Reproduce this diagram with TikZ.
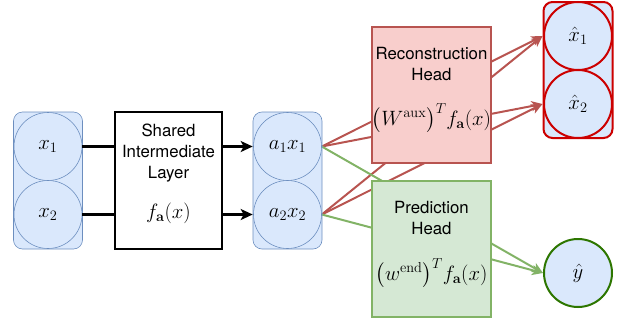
\documentclass[tikz,border=0pt]{standalone}
\usepackage[no-math]{fontspec}
\setmainfont{TeX Gyre Heros}
\usepackage{amsmath}
\usetikzlibrary{positioning,arrows.meta}
\pgfdeclarelayer{edgelayer}
\pgfsetlayers{edgelayer,main}
\definecolor{unitfill}{HTML}{DAE8FC}
\definecolor{unitline}{HTML}{6C8EBF}
\definecolor{recfill}{HTML}{F8CECC}
\definecolor{recline}{HTML}{B85450}
\definecolor{predfill}{HTML}{D5E8D4}
\definecolor{predline}{HTML}{82B366}
\definecolor{outred}{HTML}{CC0000}
\definecolor{outgreen}{HTML}{2D7600}
\newcommand{\mathfs}{\fontsize{21}{24}\selectfont}
\tikzset{
unit/.style={circle,minimum size=68pt,inner sep=0pt,fill=unitfill,draw=unitline,line width=0.6pt,font=\mathfs},
group/.style={rounded corners=9pt,minimum width=69pt,minimum height=137pt,inner sep=0pt,fill=unitfill,draw=unitline,line width=0.6pt},
headbox/.style={minimum width=119pt,minimum height=136pt,inner sep=0pt,line width=2pt},
boxtext/.style={align=center,font=\fontsize{16.8}{21}\selectfont,inner sep=0pt},
boxmath/.style={font=\mathfs,inner sep=0pt},
recedge/.style={draw=recline,line width=2pt,-{Stealth[length=11pt,width=10pt,inset=3pt]}},
prededge/.style={draw=predline,line width=2pt,-{Stealth[length=11pt,width=10pt,inset=3pt]}},
}
\begin{document}
\begin{tikzpicture}[x=1pt,y=-1pt]
\useasboundingbox (0,0) rectangle (618,324);

\node[group] (xgroup) at (48,180.5) {};
\node[unit] (x1) at (48,146.5) {$x_1$};
\node[unit] (x2) at (48,214.5) {$x_2$};

\node[draw,line width=2.6pt,minimum width=107pt,minimum height=137pt,inner sep=0pt] (shared) at (168.5,180.5) {};
\node[boxtext] (sharedtitle) at (168.5,153.5) {Shared\\Intermediate\\Layer};
\node[boxmath] (sharedform) at (168.5,213) {$f_{\mathbf{a}}(x)$};

\node[group] (agroup) at (287.5,180.5) {};
\node[unit] (a1) at (287.5,146.5) {$a_1x_1$};
\node[unit] (a2) at (287.5,214.5) {$a_2x_2$};

\node[headbox,fill=recfill,draw=recline] (rec) at (431.5,95) {};
\node[boxtext] (rectitle) at (431.5,64) {Reconstruction\\Head};
\node[boxmath] (recform) at (431.5,118) {$\bigl(W^{\mathrm{aux}}\bigr)^T f_{\mathbf{a}}(x)$};

\node[headbox,fill=predfill,draw=predline] (pred) at (431.5,249) {};
\node[boxtext] (predtitle) at (431.5,217.5) {Prediction\\Head};
\node[boxmath] (predform) at (431.5,273) {$\bigl(w^{\mathrm{end}}\bigr)^T f_{\mathbf{a}}(x)$};

\node[group,draw=outred,line width=2pt,minimum height=136pt] (xhgroup) at (578,70) {};
\node[unit,draw=outred,line width=2pt] (xh1) at (578,36) {$\hat{x}_1$};
\node[unit,draw=outred,line width=2pt] (xh2) at (578,104) {$\hat{x}_2$};

\node[unit,draw=outgreen,line width=2pt] (yh) at (578,273) {$\hat{y}$};

\draw[line width=2.6pt] (x1.east) -- (x1 -| shared.west);
\draw[line width=2.6pt] (x2.east) -- (x2 -| shared.west);
\draw[line width=2.6pt,-{Stealth[length=12pt,width=11pt,inset=3pt]}] (shared.east |- a1) -- (a1 -| agroup.west);
\draw[line width=2.6pt,-{Stealth[length=12pt,width=11pt,inset=3pt]}] (shared.east |- a2) -- (a2 -| agroup.west);

\begin{pgfonlayer}{edgelayer}
\draw[recedge] (a1.east) -- (xh1 -| xhgroup.west);
\draw[recedge] (a1.east) -- (xh2 -| xhgroup.west);
\draw[recedge] (a2.east) -- (xh1 -| xhgroup.west);
\draw[recedge] (a2.east) -- (xh2 -| xhgroup.west);
\draw[prededge] (a1.east) -- (yh.west);
\draw[prededge] (a2.east) -- (yh.west);
\end{pgfonlayer}
\end{tikzpicture}
\end{document}
